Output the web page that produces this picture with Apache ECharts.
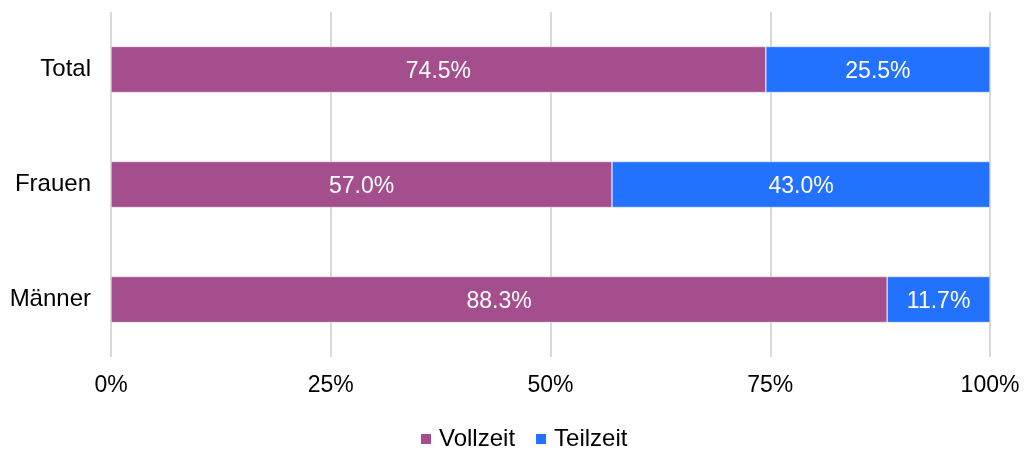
<!DOCTYPE html>
<html>
<head>
<meta charset="utf-8">
<script src="https://cdn.jsdelivr.net/npm/echarts@6/dist/echarts.min.js"></script>
<style>
  html, body { margin: 0; padding: 0; background: #fff; }
  #chart { width: 1025px; height: 449px; }
</style>
</head>
<body>
<div id="chart"></div>
<script>
// Daten
const categories = ['Total', 'Frauen', 'Männer'];
const vollzeit = [74.5, 57.0, 88.3];
const teilzeit = [25.5, 43.0, 11.7];
const seriesNames = ['Vollzeit', 'Teilzeit'];
const xTicks = [0, 25, 50, 75, 100];

const font = 'Liberation Sans, Arial, sans-serif';
let chart = echarts.init(document.getElementById('chart'), null, { renderer: 'canvas' });

chart.setOption({
  animation: false,
  textStyle: { fontFamily: font },
  grid: { left: 111, right: 35, top: 12, bottom: 92, containLabel: false },
  legend: {
    data: seriesNames,
    left: 414,
    top: 422,
    itemWidth: 12,
    itemHeight: 12,
    itemGap: 19,
    icon: 'rect',
    textStyle: { fontSize: 24, color: '#000', fontFamily: font, padding: [0, 0, 0, 2] }
  },
  xAxis: {
    type: 'value',
    min: xTicks[0],
    max: xTicks[xTicks.length - 1],
    interval: 25,
    axisLine: { show: false },
    axisTick: { show: false },
    splitLine: { lineStyle: { color: '#d9d9d9', width: 2 } },
    axisLabel: {
      formatter: '{value}%',
      fontSize: 23,
      color: '#000',
      margin: 17,
      fontFamily: font
    }
  },
  yAxis: {
    type: 'category',
    data: categories,
    inverse: true,
    axisLine: { show: false },
    axisTick: { show: false },
    axisLabel: { fontSize: 24, color: '#000', margin: 20, fontFamily: font }
  },
  series: [
    {
      name: seriesNames[0],
      type: 'bar',
      stack: 'a',
      data: vollzeit,
      barWidth: 46,
      itemStyle: { color: '#a54e8d', borderColor: '#ffffff', borderWidth: 0.5 },
      label: {
        show: true,
        position: 'inside',
        color: '#fff',
        fontSize: 23,
        fontFamily: font,
        offset: [0, 2],
        formatter: p => p.value.toFixed(1) + '%'
      }
    },
    {
      name: seriesNames[1],
      type: 'bar',
      stack: 'a',
      data: teilzeit,
      barWidth: 46,
      itemStyle: { color: '#2271ff', borderColor: '#ffffff', borderWidth: 0.5 },
      label: {
        show: true,
        position: 'inside',
        color: '#fff',
        fontSize: 23,
        fontFamily: font,
        offset: [0, 2],
        formatter: p => p.value.toFixed(1) + '%'
      }
    }
  ]
});
</script>
</body>
</html>
